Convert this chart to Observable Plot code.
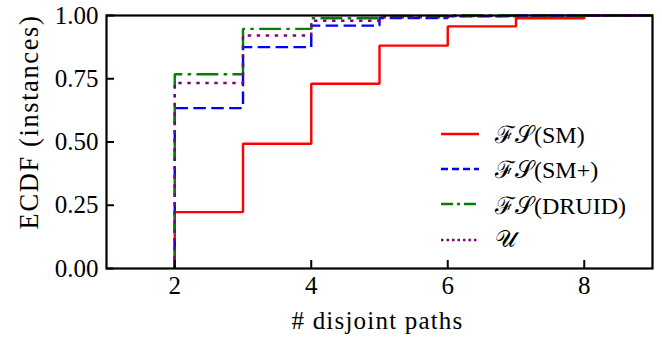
<!DOCTYPE html>
<html>
<head>
<meta charset="utf-8">
<script src="https://cdn.jsdelivr.net/npm/d3@7"></script>
<script src="https://cdn.jsdelivr.net/npm/@observablehq/plot@0.6"></script>
<style>
  html, body { margin: 0; padding: 0; background: #fff; }
  #wrap { position: relative; width: 662px; height: 337px; font-family: "Liberation Serif", serif; }
  #wrap svg text { font-family: "Liberation Serif", serif !important; }
  #legend { position: absolute; left: 441px; top: 116px; font-size: 24px; color: #000; font-family: "Liberation Serif", serif; }
  .row { display: flex; align-items: center; height: 35.3px; }
  .row svg { width: 40px; height: 10px; margin-right: 14px; }
  .xlab text { letter-spacing: 1.2px; }
  .ylab text { letter-spacing: 1.6px; }
</style>
</head>
<body>
<div id="wrap"></div>
<script>
// ---- data ----
const xSteps = [2, 3, 4, 5, 6, 7, 8, 9];
const seriesNames = ["ℱ𝒮(SM)", "ℱ𝒮(SM+)", "ℱ𝒮(DRUID)", "𝒰"];
const ecdfSM     = [0.223, 0.493, 0.730, 0.881, 0.957, 0.989, 1.000, 1.000];
const ecdfSMplus = [0.634, 0.875, 0.960, 0.990, 0.997, 1.000, 1.000, 1.000];
const ecdfDRUID  = [0.768, 0.947, 0.989, 0.998, 1.000, 1.000, 1.000, 1.000];
const ecdfU      = [0.733, 0.921, 0.979, 0.993, 0.998, 1.000, 1.000, 1.000];
const xTicks = [2, 4, 6, 8];
const yTicks = [0, 0.25, 0.5, 0.75, 1.0];
const xLabel = "# disjoint paths";
const yLabel = "ECDF (instances)";

const colors = ["#ff0000", "#0000ff", "#008000", "#800080"];
const dashes = [null, "12.5,5.4", "21.8,5.4,3.4,5.4", "3.4,5.6"];
const legendDashes = [null, "7,4", "12,4,3,4", "2.5,3"];

const allSeries = [ecdfSM, ecdfSMplus, ecdfDRUID, ecdfU];
const rows = allSeries.map((vals, i) =>
  [{x: xSteps[0], y: 0, s: seriesNames[i]}].concat(
    xSteps.map((x, j) => ({x, y: vals[j], s: seriesNames[i]}))
  )
);

const W = 662, H = 337, mL = 106, mR = 10, mT = 15, mB = 69;
const plotW = W - mL - mR, plotH = H - mT - mB;
const font = "'Liberation Serif', serif";

const chart = Plot.plot({
  width: W, height: H,
  marginLeft: mL, marginRight: mR, marginTop: mT, marginBottom: mB,
  style: {fontFamily: font, fontSize: "25px", color: "#000", background: "#fff", overflow: "visible"},
  x: {domain: [1, 9]},
  y: {domain: [0, 1]},
  marks: [
    ...rows.map((r, i) => Plot.line(r, {
      x: "x", y: "y", curve: "step-after",
      stroke: colors[i], strokeWidth: 2.4,
      strokeDasharray: dashes[i] || undefined,
      strokeLinecap: "butt", strokeLinejoin: "miter"
    })),
    Plot.tickX(xTicks, {x: d => d, insetTop: plotH - 8, stroke: "#000", strokeWidth: 2}),
    Plot.tickY(yTicks, {y: d => d, insetRight: plotW - 8, stroke: "#000", strokeWidth: 2}),
    Plot.axisX({ticks: xTicks, tickSize: 0, tickPadding: 8, tickFormat: d => String(d),
      fontSize: 25, label: null}),
    Plot.axisY({ticks: yTicks, tickSize: 0, tickPadding: 8, tickFormat: d3.format(".2f"),
      fontSize: 25, label: null}),
    Plot.text([xLabel], {frameAnchor: "bottom", text: d => d, lineAnchor: "middle", textAnchor: "middle",
      dy: 52, dx: -2, fontSize: 25, className: "xlab", fill: "#000"}),
    Plot.text([yLabel], {frameAnchor: "left", text: d => d, rotate: -90, lineAnchor: "middle", textAnchor: "middle",
      dx: -77, dy: -20, fontSize: 26.5, className: "ylab", fill: "#000"}),
    Plot.frame({stroke: "#000", strokeWidth: 2.2})
  ]
});
const wrap = document.getElementById("wrap");
wrap.appendChild(chart);

// legend
const legend = document.createElement("div");
legend.id = "legend";
seriesNames.forEach((name, i) => {
  const row = document.createElement("div");
  row.className = "row";
  const dash = legendDashes[i] ? ` stroke-dasharray="${legendDashes[i]}"` : "";
  row.innerHTML = `<svg viewBox="0 0 40 10"><line x1="0" y1="5" x2="38" y2="5" stroke="${colors[i]}" stroke-width="2.4"${dash}/></svg><span>${name}</span>`;
  legend.appendChild(row);
});
wrap.appendChild(legend);
</script>
</body>
</html>
